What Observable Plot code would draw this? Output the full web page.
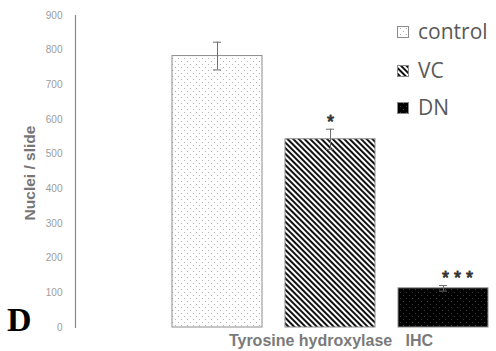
<!DOCTYPE html>
<html>
<head>
<meta charset="utf-8">
<script src="https://cdn.jsdelivr.net/npm/d3@7"></script>
<script src="https://cdn.jsdelivr.net/npm/@observablehq/plot@0.6"></script>
<style>
  html, body { margin: 0; padding: 0; background: #fff; }
  #chart { width: 496px; height: 351px; }
</style>
</head>
<body>
<div id="chart"></div>
<script>
// ---- data ----
const groups = ["control", "VC", "DN"];
const means = [783, 543, 113];
const errors = [40, 29, 8];
const stars = ["", "*", "* * *"];
const yTicks = [0, 100, 200, 300, 400, 500, 600, 700, 800, 900];
const yLabel = "Nuclei / slide";
const xLabel = "Tyrosine hydroxylase   IHC";
const panelLetter = "D";

const data = groups.map((g, i) => ({group: g, mean: means[i], err: errors[i], star: stars[i]}));
const patternIds = ["url(#pdots)", "url(#pstripe)", "url(#pdn)"];
const starStyle = {x: "group", y: d => d.mean + d.err, text: "star", lineAnchor: "middle", dy: -7, fontSize: 18, fill: "#333", stroke: "#333", strokeWidth: 0.8};

const svgEl = Plot.plot({
  width: 496,
  height: 351,
  marginLeft: 75,
  marginRight: 6,
  marginTop: 15,
  marginBottom: 24,
  style: {fontFamily: "Liberation Sans, Arial, sans-serif", background: "#fff"},
  x: {type: "band", domain: groups, range: [171, 490], paddingInner: 0.2, paddingOuter: 0, axis: null},
  y: {domain: [0, 900], axis: null},
  color: {type: "ordinal", domain: groups, range: patternIds},
  marks: [
    Plot.frame({anchor: "left", stroke: "#8a8a8a", strokeWidth: 1.2}),
    Plot.axisY(yTicks, {tickSize: 0, tickPadding: 13, fontSize: 10, fill: "#9c9c9c", label: null}),
    Plot.barY(data, {x: "group", y: "mean", fill: "group", stroke: "#8c8c8c", strokeWidth: 1}),
    Plot.ruleX(data, {x: "group", y1: d => d.mean - d.err, y2: d => d.mean + d.err, stroke: "#6e6e6e", strokeWidth: 1}),
    Plot.tickY(data, {x: "group", y: d => d.mean + d.err, stroke: "#6e6e6e", insetLeft: 41, insetRight: 41}),
    Plot.tickY(data, {x: "group", y: d => d.mean - d.err, stroke: "#6e6e6e", insetLeft: 41, insetRight: 41}),
    Plot.text(data.filter(d => d.group !== "DN"), starStyle),
    Plot.text(data.filter(d => d.group === "DN"), {...starStyle, dx: 14})
  ]
});

const svg = d3.select(svgEl);
const defs = svg.insert("defs", ":first-child");

// dotted (control)
const p1 = defs.append("pattern").attr("id", "pdots").attr("patternUnits", "userSpaceOnUse")
  .attr("width", 6).attr("height", 6);
p1.append("rect").attr("width", 6).attr("height", 6).attr("fill", "#fff");
p1.append("circle").attr("cx", 1.5).attr("cy", 1.5).attr("r", 0.6).attr("fill", "#a8a8a8");
p1.append("circle").attr("cx", 4.5).attr("cy", 4.5).attr("r", 0.6).attr("fill", "#a8a8a8");

// diagonal stripes (VC)
const p2 = defs.append("pattern").attr("id", "pstripe").attr("patternUnits", "userSpaceOnUse")
  .attr("width", 4).attr("height", 4).attr("patternTransform", "rotate(-45)");
p2.append("rect").attr("width", 4).attr("height", 4).attr("fill", "#fff");
p2.append("rect").attr("width", 2).attr("height", 4).attr("fill", "#111");

// black with dots (DN)
const p3 = defs.append("pattern").attr("id", "pdn").attr("patternUnits", "userSpaceOnUse")
  .attr("width", 6).attr("height", 6);
p3.append("rect").attr("width", 6).attr("height", 6).attr("fill", "#000");
p3.append("circle").attr("cx", 1.5).attr("cy", 1.5).attr("r", 0.6).attr("fill", "#444");
p3.append("circle").attr("cx", 4.5).attr("cy", 4.5).attr("r", 0.6).attr("fill", "#444");

// y-axis label
svg.append("text")
  .attr("transform", "translate(35,173) rotate(-90)")
  .attr("text-anchor", "middle")
  .attr("font-family", "Liberation Sans, Arial, sans-serif")
  .attr("font-size", 15.5).attr("font-weight", "bold").attr("fill", "#767676")
  .text(yLabel);

// x label
svg.append("text")
  .attr("x", 331).attr("y", 346)
  .attr("text-anchor", "middle")
  .style("white-space", "pre")
  .attr("font-family", "Liberation Sans, Arial, sans-serif")
  .attr("font-size", 16).attr("font-weight", "bold").attr("fill", "#7a7a7a")
  .text(xLabel);

// panel letter
svg.append("text")
  .attr("x", 7).attr("y", 331)
  .attr("text-anchor", "start")
  .attr("font-family", "Liberation Serif, Times New Roman, serif")
  .attr("font-size", 34).attr("font-weight", "bold").attr("fill", "#000")
  .text(panelLetter);

// legend
const leg = svg.append("g").attr("text-anchor", "start");
const legY = [26, 65, 102];
groups.forEach((g, i) => {
  leg.append("rect").attr("x", 397.5).attr("y", legY[i] + 0.5).attr("width", 11).attr("height", 11)
    .attr("fill", patternIds[i]).attr("stroke", "#8a8a8a");
  leg.append("text").attr("x", 418).attr("y", legY[i] + 12.5)
    .attr("text-anchor", "start")
    .attr("font-family", "Open Sans, Liberation Sans, sans-serif")
    .attr("font-size", 21).attr("fill", "#595959")
    .text(g);
});

document.getElementById("chart").appendChild(svgEl);
</script>
</body>
</html>
